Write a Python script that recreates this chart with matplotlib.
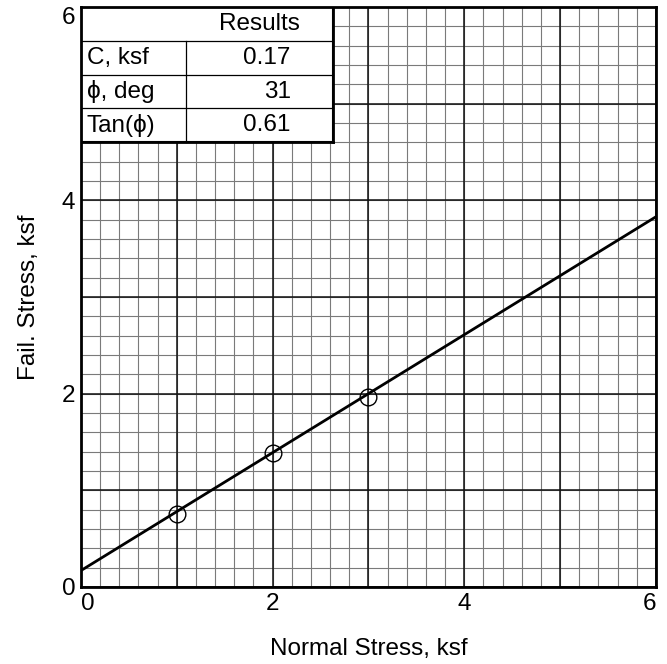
import matplotlib
matplotlib.use("Agg")
import matplotlib.pyplot as plt
import numpy as np
from matplotlib.patches import Rectangle

plt.rcParams['font.family'] = ['Liberation Sans', 'DejaVu Sans']

# Direct shear test results
normal_stress = [1.0, 2.0, 3.0]
fail_stress = [0.75, 1.39, 1.97]
cohesion = 0.17
phi_deg = 31
tan_phi = 0.61

table_labels = ["C, ksf", "\u03d5, deg", "Tan(\u03d5)"]
table_values = ["0.17", "31", "0.61"]
tick_vals = [0, 2, 4, 6]

FS = 17.5

fig = plt.figure(figsize=(6.67, 6.64), dpi=100)
ax = fig.add_axes([0.1214, 0.116, 0.8621, 0.8735])
ax.set_xlim(0, 6)
ax.set_ylim(0, 6)

# Grid: fine lines every 0.2, heavier lines every 1
minor = np.arange(0, 6.01, 0.2)
for v in minor:
    ax.axvline(v, color="#7a7a7a", lw=0.8, zorder=1)
    ax.axhline(v, color="#7a7a7a", lw=0.8, zorder=1)
for v in range(0, 7):
    ax.axvline(v, color="#111111", lw=1.1, zorder=1.5)
    ax.axhline(v, color="#111111", lw=1.1, zorder=1.5)

# Failure envelope
xs = np.array([0.0, 6.0])
ax.plot(xs, cohesion + tan_phi * xs, color="black", lw=2.0, zorder=3)
ax.plot(normal_stress, fail_stress, linestyle="none", marker="o", ms=12,
        mfc="none", mec="black", mew=1.0, zorder=4)

ax.set_xticks(tick_vals)
ax.set_yticks(tick_vals)
ax.tick_params(length=0, labelsize=FS, pad=4)
xt = ax.get_xticklabels()
xt[0].set_horizontalalignment("left")
xt[-1].set_horizontalalignment("right")
yt = ax.get_yticklabels()
yt[-1].set_verticalalignment("top")
for s in ax.spines.values():
    s.set_linewidth(2.0)
    s.set_zorder(6)

ax.set_xlabel("Normal Stress, ksf", fontsize=FS, labelpad=17)
ax.set_ylabel("Fail. Stress, ksf", fontsize=FS, labelpad=16)

# Results table in the upper-left corner
t_left, t_right, t_div = 0.0, 2.63, 1.10
t_top, row_h = 6.0, 0.35
n_rows = len(table_labels) + 1
t_bottom = t_top - n_rows * row_h
ax.add_patch(Rectangle((t_left, t_bottom), t_right - t_left, t_top - t_bottom,
                       facecolor="white", edgecolor="black", lw=1.5, zorder=5))
ax.plot([t_right, t_right], [t_bottom, t_top], color="black", lw=2.0, zorder=5.5)
ax.plot([t_left, t_right], [t_bottom, t_bottom], color="black", lw=2.0, zorder=5.5)
for i in range(1, n_rows):
    y = t_top - i * row_h
    ax.plot([t_left, t_right], [y, y], color="black", lw=0.9, zorder=5.5)
ax.plot([t_div, t_div], [t_bottom, t_top - row_h], color="black", lw=0.9, zorder=5.5)

ax.text((t_div + t_right) / 2, t_top - row_h / 2, "Results", ha="center",
        va="center", fontsize=FS, zorder=6)
for i, (lab, val) in enumerate(zip(table_labels, table_values)):
    yc = t_top - (i + 1.5) * row_h
    ax.text(t_left + 0.06, yc, lab, ha="left", va="center", fontsize=FS, zorder=6)
    ax.text(2.19, yc, val, ha="right", va="center", fontsize=FS, zorder=6)

fig.savefig("out.png", dpi=100)
